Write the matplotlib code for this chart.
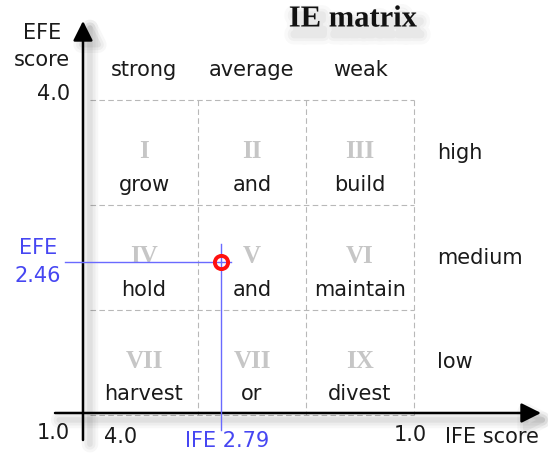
import matplotlib
matplotlib.use("Agg")
import matplotlib.pyplot as plt
import matplotlib.patheffects as pe
from matplotlib.transforms import offset_copy

# data
ife_bounds = [4.0, 3.0, 2.0, 1.0]
efe_bounds = [4.0, 3.0, 2.0, 1.0]
col_labels = ["strong", "average", "weak"]
row_labels = ["high", "medium", "low"]
cell_numerals = [["I", "II", "III"],
                 ["IV", "V", "VI"],
                 ["VII", "VII", "IX"]]
cell_words = [["grow", "and", "build"],
              ["hold", "and", "maintain"],
              ["harvest", "or", "divest"]]
ife_score = 2.79
efe_score = 2.46

W, H = 548, 454
# pixel layout of the score scales
x0px, xunit = 90, 108   # pixel of IFE 4.0, pixels per unit
y0px, yunit = 100, 105  # pixel of EFE 4.0, pixels per unit

TXT = "#1a1a1a"
BLUE = "#4646f2"
GRAY = "#c6c6c6"

fig = plt.figure(figsize=(W / 100, H / 100), dpi=100)
ax = fig.add_axes([0, 0, 1, 1])
ax.set_xlim(4 + x0px / xunit, 4 - (W - x0px) / xunit)
ax.set_ylim(4 - (H - y0px) / yunit, 4 + y0px / yunit)
ax.axis("off")


def fr(x, y):
    return (x / W, 1 - y / H)


def px_ife(x):
    return 4 - (x - x0px) / xunit


def px_efe(y):
    return 4 - (y - y0px) / yunit


def shadow(off=(3, -3), widths=((12, 0.03), (8, 0.04), (4, 0.05))):
    return [pe.SimpleLineShadow(offset=off, shadow_color="k", alpha=a, linewidth=w)
            for w, a in widths] + [pe.Normal()]


# dashed grid
gkw = dict(color="#b8b8b8", lw=0.8, linestyle=(0, (5, 3)), zorder=1)
for e in efe_bounds:
    ax.plot([ife_bounds[0], ife_bounds[-1]], [e, e], **gkw)
for i in ife_bounds[1:]:
    ax.plot([i, i], [efe_bounds[0], efe_bounds[-1]], **gkw)

# cells
for r in range(3):
    yc = (efe_bounds[r] + efe_bounds[r + 1]) / 2
    for c in range(3):
        xc = (ife_bounds[c] + ife_bounds[c + 1]) / 2
        ax.text(xc, yc, cell_numerals[r][c], ha="center", va="center",
                family="Liberation Serif", weight="bold", fontsize=18, color=GRAY,
                transform=offset_copy(ax.transData, fig=fig, y=1, units="dots"))
        ax.text(xc, yc, cell_words[r][c], ha="center", va="center",
                fontsize=15, color=TXT,
                transform=offset_copy(ax.transData, fig=fig, y=-32, units="dots"))

for c, lab in enumerate(col_labels):
    xc = (ife_bounds[c] + ife_bounds[c + 1]) / 2
    ax.text(xc, 1 - 70 / H, lab, ha="center", va="center", fontsize=15, color=TXT,
            transform=ax.get_xaxis_transform())
for r, lab in enumerate(row_labels):
    yc = (efe_bounds[r] + efe_bounds[r + 1]) / 2
    ax.text(437 / W, yc, lab, ha="left", va="center", fontsize=15, color=TXT,
            transform=ax.get_yaxis_transform())

# axes with arrows
akw = dict(arrowstyle="-|>,head_length=0.6,head_width=0.3", lw=1.8, color="black",
           shrinkA=0, shrinkB=0, mutation_scale=20)
a1 = ax.annotate("", xy=fr(83, 21), xytext=fr(83, 440), xycoords="axes fraction",
                 arrowprops=akw, zorder=3)
a2 = ax.annotate("", xy=fr(541, 413), xytext=fr(55, 413), xycoords="axes fraction",
                 arrowprops=akw, zorder=3)
a1.arrow_patch.set_path_effects(shadow((5, -3)))
a2.arrow_patch.set_path_effects(shadow((3, -5)))

# axis labels
ax.text(*fr(42, 33), "EFE", ha="center", va="center", fontsize=15, color=TXT,
        transform=ax.transAxes)
ax.text(*fr(42, 60), "score", ha="center", va="center", fontsize=15, color=TXT,
        transform=ax.transAxes)
ax.text(*fr(70, 94), "4.0", ha="right", va="center", fontsize=15, color=TXT,
        transform=ax.transAxes)
ax.text(*fr(70, 433), "1.0", ha="right", va="center", fontsize=15, color=TXT,
        transform=ax.transAxes)
ax.text(*fr(104, 437), "4.0", ha="left", va="center", fontsize=15, color=TXT,
        transform=ax.transAxes)
ax.text(*fr(427, 435), "1.0", ha="right", va="center", fontsize=15, color=TXT,
        transform=ax.transAxes)
ax.text(*fr(445, 437), "IFE score", ha="left", va="center", fontsize=15, color=TXT,
        transform=ax.transAxes)

# title with a soft shadow
ax.text(*fr(353, 19), "IE matrix", ha="center", va="center", fontsize=22,
        family="Liberation Serif", weight="bold", color="#111111",
        transform=ax.transAxes,
        path_effects=shadow((3, -6), ((14, 0.025), (9, 0.03), (5, 0.035))))

# IFE / EFE crosshair and marker
ax.plot([px_ife(65), ife_score - 10 / xunit], [efe_score, efe_score],
        color="#6a6aff", lw=1, zorder=4)
ax.plot([ife_score, ife_score], [efe_score + 18 / yunit, px_efe(430)],
        color="#6a6aff", lw=1, zorder=4)
ax.plot(ife_score, efe_score, "o", ms=9.5, mfc="none", mec="#ff1010", mew=2.8, zorder=5)

ax.text(38 / W, efe_score, "EFE", ha="center", va="center", fontsize=15, color=BLUE,
        transform=offset_copy(ax.get_yaxis_transform(), fig=fig, y=14, units="dots"))
ax.text(38 / W, efe_score, f"{efe_score:.2f}", ha="center", va="center", fontsize=15,
        color=BLUE,
        transform=offset_copy(ax.get_yaxis_transform(), fig=fig, y=-14, units="dots"))
ax.text(ife_score, 1 - 441 / H, f"IFE {ife_score:.2f}", ha="center", va="center",
        fontsize=15, color=BLUE,
        transform=offset_copy(ax.get_xaxis_transform(), fig=fig, x=6, units="dots"))

fig.savefig("out.png", dpi=100)
